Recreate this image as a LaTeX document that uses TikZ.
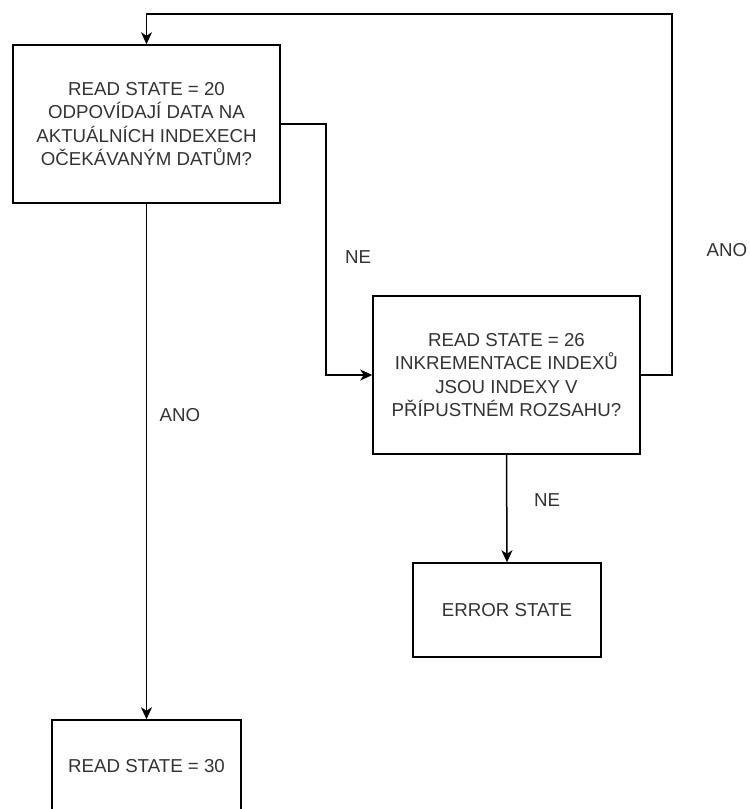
\documentclass[tikz,border=0pt]{standalone}
\usepackage{fontspec}
\setmainfont{Liberation Sans}
\usetikzlibrary{arrows.meta}
\definecolor{textgray}{rgb}{0.2,0.2,0.2}
\begin{document}
\begin{tikzpicture}[x=1pt,y=-1pt,
  statebox/.style={draw=black, line width=1.5pt, align=center, text=textgray,
    font=\fontsize{18.7}{23.3}\selectfont, inner sep=0pt},
  flow/.style={line width=1.5pt, -{Stealth[length=12pt,width=11pt,inset=3.5pt]}},
  lbl/.style={text=textgray, font=\fontsize{18.7}{22}\selectfont, inner sep=0pt}]
\useasboundingbox (0,0) rectangle (750,809);

% states
\node[statebox, minimum width=267pt, minimum height=158pt] (s20) at (146.5,124)
  {READ STATE = 20\\ODPOVÍDAJÍ DATA NA\\AKTUÁLNÍCH INDEXECH\\OČEKÁVANÝM DATŮM?};
\node[statebox, minimum width=267pt, minimum height=158pt] (s26) at (506.5,375)
  {READ STATE = 26\\INKREMENTACE INDEXŮ\\JSOU INDEXY V\\PŘÍPUSTNÉM ROZSAHU?};
\node[statebox, minimum width=188pt, minimum height=94pt] (err) at (507,610)
  {ERROR STATE};
\node[statebox, minimum width=189pt, minimum height=92pt] (s30) at (146.5,766)
  {READ STATE = 30};

% bend points
\coordinate (c1) at (326,124);
\coordinate (c2) at (672,14);

% transitions
\draw[flow] (s20.south) -- (s30.north);
\draw[flow] (s20.east) -- (c1) |- (s26.west);
\draw[flow] (s26.south) -- (err.north);
\draw[flow] (s26.east) -| (c2) -| (s20.north);

% labels
\node[lbl] (ne1) at (358,257) {NE};
\node[lbl] (ano1) at (180,415) {ANO};
\node[lbl] (ne2) at (547,500) {NE};
\node[lbl] (ano2) at (727,250) {ANO};
\end{tikzpicture}
\end{document}
